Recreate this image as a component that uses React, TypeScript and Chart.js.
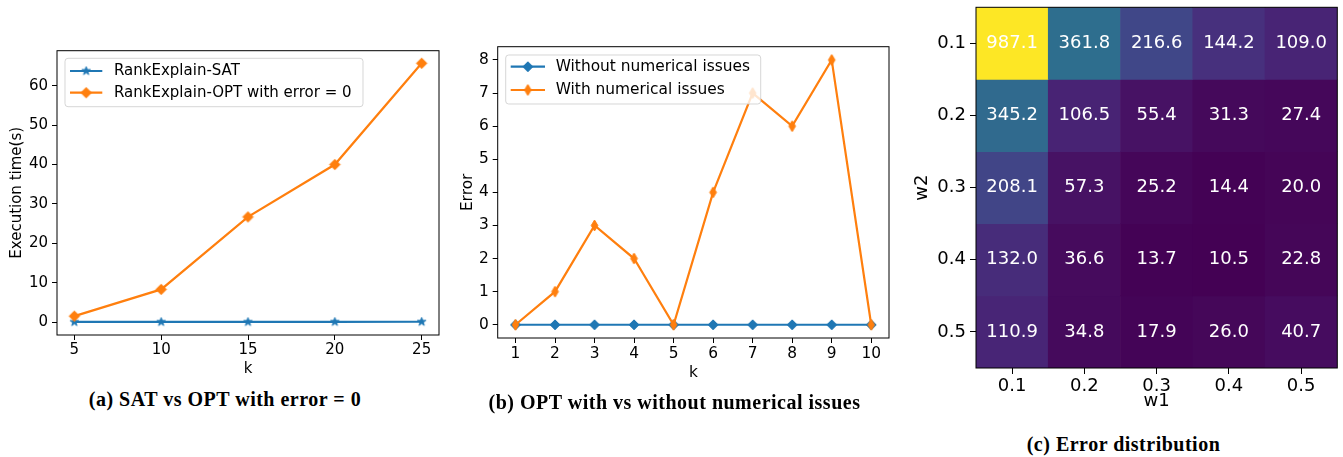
import React, { useEffect, useRef } from "react";
import { Chart, registerables } from "chart.js";

Chart.register(...registerables);

// ---------- Panel (a): SAT vs OPT with error = 0 ----------
const kValuesA = [5, 10, 15, 20, 25];
const satTimes = [0.03, 0.04, 0.05, 0.06, 0.08];
const optTimes = [1.5, 8.3, 26.7, 40.0, 65.7];
const yTicksA = [0, 10, 20, 30, 40, 50, 60];

// ---------- Panel (b): OPT with vs without numerical issues ----------
const kValuesB = [1, 2, 3, 4, 5, 6, 7, 8, 9, 10];
const errorWithout = [0, 0, 0, 0, 0, 0, 0, 0, 0, 0];
const errorWith = [0, 1, 3, 2, 0, 4, 7, 6, 8, 0];
const yTicksB = [0, 1, 2, 3, 4, 5, 6, 7, 8];

// ---------- Panel (c): Error distribution ----------
const w1Labels = ["0.1", "0.2", "0.3", "0.4", "0.5"];
const w2Labels = ["0.1", "0.2", "0.3", "0.4", "0.5"];
const errorW2_01 = [987.1, 361.8, 216.6, 144.2, 109.0];
const errorW2_02 = [345.2, 106.5, 55.4, 31.3, 27.4];
const errorW2_03 = [208.1, 57.3, 25.2, 14.4, 20.0];
const errorW2_04 = [132.0, 36.6, 13.7, 10.5, 22.8];
const errorW2_05 = [110.9, 34.8, 17.9, 26.0, 40.7];
const errorRows = [errorW2_01, errorW2_02, errorW2_03, errorW2_04, errorW2_05];

const BLUE = "#1f77b4";
const ORANGE = "#ff7f0e";
const FONT = "DejaVu Sans";

const VIRIDIS = [
  "#440154", "#471365", "#482475", "#463480", "#414487", "#3b528b", "#355f8d",
  "#2f6c8e", "#2a788e", "#25848e", "#21918c", "#1e9c89", "#22a884", "#2fb47c",
  "#44bf70", "#5ec962", "#7ad151", "#9bd93c", "#bddf26", "#dfe318", "#fde725",
];

function hexToRgb(h: string) {
  return [1, 3, 5].map((i) => parseInt(h.slice(i, i + 2), 16));
}

function viridis(t: number) {
  const tt = Math.max(0, Math.min(1, t));
  const f = tt * (VIRIDIS.length - 1);
  const i = Math.min(VIRIDIS.length - 2, Math.floor(f));
  const u = f - i;
  const a = hexToRgb(VIRIDIS[i]);
  const b = hexToRgb(VIRIDIS[i + 1]);
  const c = a.map((v, k) => Math.round(v + (b[k] - v) * u));
  return `rgb(${c[0]},${c[1]},${c[2]})`;
}

function makeMarker(shape: string, color: string, size: number): HTMLCanvasElement {
  const c = document.createElement("canvas");
  const s = Math.ceil(size + 4);
  c.width = s;
  c.height = s;
  const ctx = c.getContext("2d")!;
  const cx = s / 2;
  const cy = s / 2;
  const r = size / 2;
  ctx.beginPath();
  if (shape === "star") {
    for (let i = 0; i < 10; i++) {
      const ang = -Math.PI / 2 + (i * Math.PI) / 5;
      const rr = i % 2 === 0 ? r : r * 0.382;
      const px = cx + rr * Math.cos(ang);
      const py = cy + rr * Math.sin(ang);
      if (i === 0) ctx.moveTo(px, py);
      else ctx.lineTo(px, py);
    }
  } else if (shape === "D") {
    ctx.moveTo(cx, cy - r);
    ctx.lineTo(cx + r, cy);
    ctx.lineTo(cx, cy + r);
    ctx.lineTo(cx - r, cy);
  } else {
    const w = r * 0.6;
    ctx.moveTo(cx, cy - r);
    ctx.lineTo(cx + w, cy);
    ctx.lineTo(cx, cy + r);
    ctx.lineTo(cx - w, cy);
  }
  ctx.closePath();
  ctx.fillStyle = color;
  ctx.fill();
  ctx.lineWidth = 1;
  ctx.strokeStyle = color;
  ctx.stroke();
  return c;
}

const framePlugin = {
  id: "frameBox",
  afterDatasetsDraw(chart: any) {
    const { ctx, chartArea: a } = chart;
    ctx.save();
    ctx.strokeStyle = "#000";
    ctx.lineWidth = 1;
    ctx.strokeRect(a.left, a.top, a.right - a.left, a.bottom - a.top);
    ctx.restore();
  },
};

function makeLegendPlugin(g: {
  box: number[];
  rows: number[];
  line: number[];
  textX: number;
  fontSize: number;
}) {
  return {
    id: "boxLegend",
    afterDraw(chart: any) {
      const ctx = chart.ctx;
      const [x, y, w, h] = g.box;
      ctx.save();
      ctx.beginPath();
      ctx.roundRect(x, y, w, h, 3);
      ctx.fillStyle = "rgba(255,255,255,0.8)";
      ctx.fill();
      ctx.strokeStyle = "rgba(204,204,204,0.8)";
      ctx.lineWidth = 1;
      ctx.stroke();
      chart.data.datasets.forEach((ds: any, i: number) => {
        const ry = g.rows[i];
        ctx.strokeStyle = ds.borderColor;
        ctx.lineWidth = ds.borderWidth;
        ctx.beginPath();
        ctx.moveTo(g.line[0], ry);
        ctx.lineTo(g.line[1], ry);
        ctx.stroke();
        const img = ds.pointStyle as HTMLCanvasElement;
        ctx.drawImage(img, (g.line[0] + g.line[1]) / 2 - img.width / 2, ry - img.height / 2);
        ctx.fillStyle = "#000";
        ctx.font = `${g.fontSize}px "${FONT}"`;
        ctx.textBaseline = "middle";
        ctx.textAlign = "left";
        ctx.fillText(ds.label, g.textX, ry);
      });
      ctx.restore();
    },
  };
}

const cellTextPlugin = {
  id: "cellText",
  afterDatasetsDraw(chart: any) {
    const ctx = chart.ctx;
    ctx.save();
    ctx.fillStyle = "#fff";
    ctx.font = `18px "${FONT}"`;
    ctx.textAlign = "center";
    ctx.textBaseline = "middle";
    chart.data.datasets.forEach((_ds: any, r: number) => {
      const meta = chart.getDatasetMeta(r);
      meta.data.forEach((el: any, c: number) => {
        const p = el.getCenterPoint();
        ctx.fillText(errorRows[r][c].toFixed(1), p.x, p.y);
      });
    });
    ctx.restore();
  },
};

function axisCommon(fontSize: number, tickLength: number) {
  return {
    grid: {
      display: true,
      drawOnChartArea: false,
      drawTicks: true,
      tickLength,
      tickColor: "#000",
      lineWidth: 1,
    },
    border: { display: false },
    ticks: {
      font: { family: FONT, size: fontSize },
      color: "#000",
      maxRotation: 0,
      autoSkip: false,
    },
  };
}

function buildA() {
  const star = makeMarker("star", BLUE, 9);
  const diamond = makeMarker("D", ORANGE, 10.5);
  const fs = 15;
  const cx = axisCommon(fs, 5);
  const cy = axisCommon(fs, 5);
  return {
    type: "line",
    data: {
      datasets: [
        {
          label: "RankExplain-SAT",
          data: kValuesA.map((k, i) => ({ x: k, y: satTimes[i] })),
          borderColor: BLUE,
          backgroundColor: BLUE,
          borderWidth: 2.2,
          pointStyle: star,
          pointRadius: 4,
          tension: 0,
          order: 1,
        },
        {
          label: "RankExplain-OPT with error = 0",
          data: kValuesA.map((k, i) => ({ x: k, y: optTimes[i] })),
          borderColor: ORANGE,
          backgroundColor: ORANGE,
          borderWidth: 2.2,
          pointStyle: diamond,
          pointRadius: 4,
          tension: 0,
          order: 0,
        },
      ],
    },
    options: {
      animation: false,
      responsive: false,
      devicePixelRatio: 1,
      layout: { padding: { left: 0, top: 50.7, right: 11, bottom: 0 } },
      plugins: { legend: { display: false }, tooltip: { enabled: false } },
      scales: {
        x: {
          type: "linear",
          min: 4,
          max: 26,
          afterBuildTicks: (s: any) => {
            s.ticks = kValuesA.map((v) => ({ value: v }));
          },
          afterFit: (s: any) => {
            s.height = 43;
          },
          ...cx,
          ticks: { ...cx.ticks, padding: 1.5 },
          title: {
            display: true,
            text: "k",
            color: "#000",
            font: { family: FONT, size: fs },
            padding: { top: 0, bottom: 0 },
          },
        },
        y: {
          type: "linear",
          min: -3.28,
          max: 68.9,
          afterBuildTicks: (s: any) => {
            s.ticks = yTicksA.map((v) => ({ value: v }));
          },
          afterFit: (s: any) => {
            s.width = 57;
          },
          ...cy,
          ticks: { ...cy.ticks, padding: 4 },
          title: {
            display: true,
            text: "Execution time(s)",
            color: "#000",
            font: { family: FONT, size: fs },
            padding: { top: 8.5, bottom: 0 },
          },
        },
      },
    },
    plugins: [
      framePlugin,
      makeLegendPlugin({
        box: [65, 58.3, 298, 48.4],
        rows: [71, 92.7],
        line: [70, 102.3],
        textX: 114,
        fontSize: fs,
      }),
    ],
  };
}

function buildB() {
  const dBlue = makeMarker("D", BLUE, 10);
  const dThin = makeMarker("d", ORANGE, 11);
  const fs = 15.4;
  const cx = axisCommon(fs, 5);
  const cy = axisCommon(fs, 5);
  return {
    type: "line",
    data: {
      datasets: [
        {
          label: "Without numerical issues",
          data: kValuesB.map((k, i) => ({ x: k, y: errorWithout[i] })),
          borderColor: BLUE,
          backgroundColor: BLUE,
          borderWidth: 2.2,
          pointStyle: dBlue,
          pointRadius: 4,
          tension: 0,
          order: 1,
        },
        {
          label: "With numerical issues",
          data: kValuesB.map((k, i) => ({ x: k, y: errorWith[i] })),
          borderColor: ORANGE,
          backgroundColor: ORANGE,
          borderWidth: 2.2,
          pointStyle: dThin,
          pointRadius: 4,
          tension: 0,
          order: 0,
        },
      ],
    },
    options: {
      animation: false,
      responsive: false,
      devicePixelRatio: 1,
      layout: { padding: { left: 0, top: 46.7, right: 11, bottom: 0 } },
      plugins: { legend: { display: false }, tooltip: { enabled: false } },
      scales: {
        x: {
          type: "linear",
          min: 0.55,
          max: 10.45,
          afterBuildTicks: (s: any) => {
            s.ticks = kValuesB.map((v) => ({ value: v }));
          },
          afterFit: (s: any) => {
            s.height = 44;
          },
          ...cx,
          ticks: { ...cx.ticks, padding: 1.5 },
          title: {
            display: true,
            text: "k",
            color: "#000",
            font: { family: FONT, size: fs },
            padding: { top: 0, bottom: 0 },
          },
        },
        y: {
          type: "linear",
          min: -0.4,
          max: 8.4,
          afterBuildTicks: (s: any) => {
            s.ticks = yTicksB.map((v) => ({ value: v }));
          },
          afterFit: (s: any) => {
            s.width = 52.7;
          },
          ...cy,
          ticks: { ...cy.ticks, padding: 4 },
          title: {
            display: true,
            text: "Error",
            color: "#000",
            font: { family: FONT, size: fs },
            padding: { top: 13.8, bottom: 0 },
          },
        },
      },
    },
    plugins: [
      framePlugin,
      makeLegendPlugin({
        box: [60.7, 55, 255, 49],
        rows: [66.7, 90],
        line: [65.7, 100],
        textX: 110.7,
        fontSize: fs,
      }),
    ],
  };
}

function buildC() {
  const all = errorRows.flat();
  const vmin = Math.min(...all);
  const vmax = Math.max(...all);
  const fs = 18;
  const cx = axisCommon(fs, 6);
  const cy = axisCommon(fs, 6);
  return {
    type: "bar",
    data: {
      labels: w1Labels,
      datasets: errorRows.map((row, r) => ({
        label: w2Labels[r],
        data: row.map(() => [r + 0.5, r + 1.5]),
        backgroundColor: row.map((v) => viridis((v - vmin) / (vmax - vmin))),
        borderWidth: 0,
        grouped: false,
        barPercentage: 1,
        categoryPercentage: 1,
      })),
    },
    options: {
      animation: false,
      responsive: false,
      devicePixelRatio: 1,
      layout: { padding: { left: 0, top: 27.3, right: 5.7, bottom: 0 } },
      plugins: { legend: { display: false }, tooltip: { enabled: false } },
      scales: {
        x: {
          type: "category",
          offset: true,
          afterFit: (s: any) => {
            s.height = 44;
          },
          ...cx,
          grid: { ...cx.grid, offset: false },
          ticks: { ...cx.ticks, padding: 2 },
          title: {
            display: true,
            text: "w1",
            color: "#000",
            font: { family: FONT, size: fs },
            padding: { top: 0, bottom: 0 },
          },
        },
        y: {
          type: "linear",
          reverse: true,
          min: 0.5,
          max: 5.5,
          afterBuildTicks: (s: any) => {
            s.ticks = w2Labels.map((_l, i) => ({ value: i + 1 }));
          },
          afterFit: (s: any) => {
            s.width = 76;
          },
          ...cy,
          ticks: {
            ...cy.ticks,
            padding: 4,
            callback: (v: number) => w2Labels[Math.round(v) - 1],
          },
          title: {
            display: true,
            text: "w2",
            color: "#000",
            font: { family: FONT, size: fs },
            padding: { top: 11.2, bottom: 0 },
          },
        },
      },
    },
    plugins: [cellTextPlugin, framePlugin],
  };
}

function ChartCanvas(props: {
  build: () => any;
  left: number;
  top: number;
  width: number;
  height: number;
}) {
  const ref = useRef<HTMLCanvasElement>(null);
  useEffect(() => {
    const chart = new Chart(ref.current as HTMLCanvasElement, props.build());
    return () => chart.destroy();
  }, []);
  return (
    <canvas
      ref={ref}
      width={props.width}
      height={props.height}
      style={{
        position: "absolute",
        left: props.left,
        top: props.top,
        width: props.width,
        height: props.height,
      }}
    />
  );
}

function Caption(props: { text: string; cx: number; cy: number }) {
  return (
    <div
      style={{
        position: "absolute",
        left: props.cx - 250,
        top: props.cy - 13.7,
        width: 500,
        height: 24,
        lineHeight: "24px",
        textAlign: "center",
        fontFamily: '"Liberation Serif", serif',
        fontWeight: "bold",
        fontSize: 20,
        letterSpacing: "0.5px",
        color: "#000",
        whiteSpace: "nowrap",
      }}
    >
      {props.text}
    </div>
  );
}

export default function App() {
  return (
    <div
      style={{
        position: "absolute",
        left: 0,
        top: 0,
        width: 1343,
        height: 457,
        background: "#fff",
        overflow: "hidden",
      }}
    >
      <ChartCanvas build={buildA} left={0} top={0} width={450} height={378} />
      <ChartCanvas build={buildB} left={445} top={0} width={455} height={382} />
      <ChartCanvas build={buildC} left={900} top={-20} width={443} height={432} />
      <Caption text="(a) SAT vs OPT with error = 0" cx={225} cy={400.8} />
      <Caption text="(b) OPT with vs without numerical issues" cx={674.5} cy={403.7} />
      <Caption text="(c) Error distribution" cx={1123.5} cy={445.7} />
    </div>
  );
}
